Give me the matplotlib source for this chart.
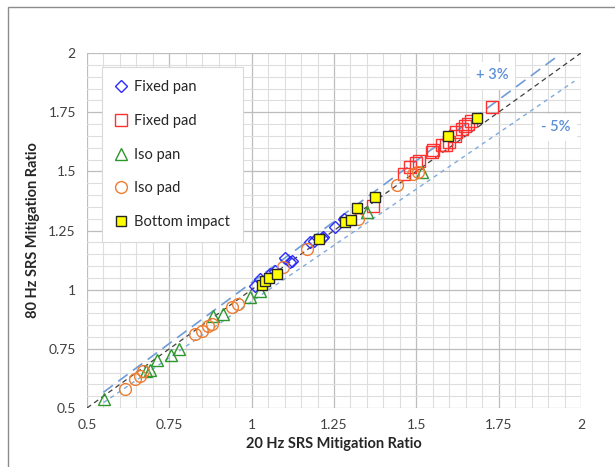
import matplotlib
matplotlib.use("Agg")
import matplotlib.pyplot as plt
from matplotlib.patches import Rectangle
import numpy as np

plt.rcParams["font.family"] = ["Lato", "DejaVu Sans"]

# --- data (20 Hz ratio, 80 Hz ratio) ---
fixed_pan_x = [1.011, 1.026, 1.056, 1.071, 1.102, 1.117, 1.123, 1.178, 1.190, 1.214, 1.218, 1.254, 1.281]
fixed_pan_y = [1.015, 1.044, 1.065, 1.078, 1.135, 1.116, 1.120, 1.200, 1.205, 1.217, 1.222, 1.266, 1.297]

fixed_pad_x = [1.369, 1.463, 1.482, 1.500, 1.508, 1.547, 1.552, 1.579, 1.590, 1.600,
               1.616, 1.619, 1.640, 1.648, 1.658, 1.667, 1.731]
fixed_pad_y = [1.352, 1.487, 1.517, 1.535, 1.545, 1.580, 1.590, 1.610, 1.612, 1.622,
               1.650, 1.665, 1.680, 1.690, 1.700, 1.712, 1.770]

iso_pan_x = [0.552, 0.680, 0.691, 0.713, 0.755, 0.780, 0.883, 0.913, 0.995, 1.026, 1.351, 1.518]
iso_pan_y = [0.538, 0.655, 0.660, 0.703, 0.724, 0.749, 0.888, 0.897, 0.968, 0.994, 1.327, 1.496]

iso_pad_x = [0.616, 0.646, 0.661, 0.670, 0.828, 0.850, 0.868, 0.880, 0.941, 0.959,
             1.096, 1.169, 1.324, 1.442, 1.491, 1.505]
iso_pad_y = [0.580, 0.622, 0.635, 0.656, 0.812, 0.825, 0.846, 0.854, 0.926, 0.939,
             1.095, 1.171, 1.297, 1.441, 1.487, 1.497]

bottom_x = [1.030, 1.040, 1.052, 1.078, 1.205, 1.282, 1.302, 1.320, 1.375, 1.597, 1.685]
bottom_y = [1.020, 1.035, 1.048, 1.068, 1.215, 1.287, 1.295, 1.345, 1.390, 1.648, 1.725]

# reference lines: ratio and x-extent
ref_unity = (1.00, [0.50, 2.00])
ref_plus3 = (1.03, [0.55, 1.935])
ref_minus5 = (0.95, [0.55, 1.98])

ticks = [0.5, 0.75, 1, 1.25, 1.5, 1.75, 2]
tick_labels = ["0.5", "0.75", "1", "1.25", "1.5", "1.75", "2"]

fig = plt.figure(figsize=(6.15, 4.67), dpi=100)
ax = fig.add_axes([87 / 615, 59 / 467, 494 / 615, 355 / 467])

# outer chart frame
fig.patches.append(Rectangle((8 / 615, -0.1), 1.2, (467 - 7) / 467 + 0.1,
                             transform=fig.transFigure, fill=False,
                             edgecolor="#8c8c8c", lw=1.0, clip_on=False))

ax.set_xlim(0.5, 2)
ax.set_ylim(0.5, 2)
ax.set_xticks(ticks)
ax.set_xticklabels(tick_labels)
ax.set_yticks(ticks)
ax.set_yticklabels(tick_labels)
ax.set_xticks(np.arange(0.5, 2.0001, 0.05), minor=True)
ax.set_yticks(np.arange(0.5, 2.0001, 0.05), minor=True)
ax.grid(which="minor", color="#dedede", lw=0.8)
ax.grid(which="major", color="#bdbdbd", lw=0.9)
ax.set_axisbelow(True)
ax.tick_params(which="both", length=0, labelsize=10, colors="#404040", pad=8)
for s in ax.spines.values():
    s.set_visible(False)

# reference lines
for (k, xr), style in [(ref_unity, dict(color="#404040", lw=0.9, dashes=(4, 3))),
                       (ref_plus3, dict(color="#6f9bd6", lw=1.2, dashes=(7, 4))),
                       (ref_minus5, dict(color="#7faadd", lw=1.0, dashes=(3, 3)))]:
    xr = np.array(xr)
    ax.plot(xr, k * xr, zorder=2, **style)

ms = 7
ax.plot(fixed_pan_x, fixed_pan_y, "D", ms=ms - 1, mfc="none", mec="#2b2bff", mew=1.0,
        ls="none", label="Fixed pan", zorder=3)
ax.plot(fixed_pad_x, fixed_pad_y, "s", ms=ms + 1, mfc="none", mec="#ff3030", mew=1.0,
        ls="none", label="Fixed pad", zorder=3)
ax.plot(iso_pan_x, iso_pan_y, "^", ms=ms + 1, mfc="none", mec="#2e962e", mew=1.0,
        ls="none", label="Iso pan", zorder=3)
ax.plot(iso_pad_x, iso_pad_y, "o", ms=ms + 1.5, mfc="none", mec="#ed7d31", mew=1.0,
        ls="none", label="Iso pad", zorder=3)
ax.plot(bottom_x, bottom_y, "s", ms=ms, mfc="#ffff00", mec="#262626", mew=1.0,
        ls="none", label="Bottom impact", zorder=4)

leg = ax.legend(loc="upper left", bbox_to_anchor=(0.03, 0.96), fontsize=10.5,
                frameon=True, fancybox=False, edgecolor="#d9d9d9", framealpha=1,
                labelspacing=1.35, handlelength=0.8, handletextpad=0.5,
                borderpad=0.9, borderaxespad=0)
leg.get_frame().set_linewidth(0.8)
for t in leg.get_texts():
    t.set_color("#262626")

bbox = dict(boxstyle="square,pad=0.45", fc="white", ec="none")
ax.text(1.731, 1.905, "+ 3%", color="#5b8fd6", fontsize=10.5, ha="center", va="center",
        fontweight="semibold", bbox=bbox, zorder=5)
ax.text(1.922, 1.686, "- 5%", color="#5b8fd6", fontsize=10.5, ha="center", va="center",
        fontweight="semibold", bbox=bbox, zorder=5)

ax.set_xlabel("20 Hz SRS Mitigation Ratio", fontsize=10.5, fontweight="bold",
              color="#262626", labelpad=4)
ax.set_ylabel("80 Hz SRS Mitigation Ratio", fontsize=10.5, fontweight="bold",
              color="#262626", labelpad=6)

fig.savefig("out.png", dpi=100)
